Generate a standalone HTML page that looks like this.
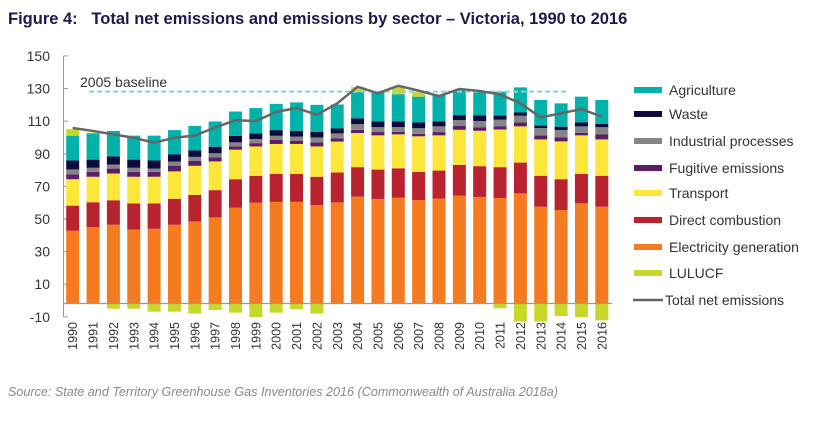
<!DOCTYPE html>
<html><head><meta charset="utf-8"><style>
body{margin:0;background:#fff;width:834px;height:418px;overflow:hidden}
svg text{font-family:"Liberation Sans",sans-serif}
</style></head><body>
<svg id="c" width="834" height="418">
<text x="8" y="24" font-size="16.5" font-weight="bold" fill="#1c1a4c">Figure 4:&#160;&#160;&#160;Total net emissions and emissions by sector – Victoria, 1990 to 2016</text>
<text x="8" y="396" font-size="12.6" font-style="italic" fill="#888">Source: State and Territory Greenhouse Gas Inventories 2016 (Commonwealth of Australia 2018a)</text>
<g id="plot"></g>
<g id="legend"></g>
</svg>
<script>
const years=[1990,1991,1992,1993,1994,1995,1996,1997,1998,1999,2000,2001,2002,2003,2004,2005,2006,2007,2008,2009,2010,2011,2012,2013,2014,2015,2016];
const electricity=[44.3,46.5,48,45,45.5,48,50,52.5,58.5,61.5,62,62,60,61.7,65.2,63.8,64.5,63.1,64,65.8,65,64.4,67.2,59,57,61.1,59];
const directCombustion=[15.4,15.3,15,16,15.5,15.9,16.3,16.7,17.4,16.5,17.2,17.2,17.4,18.3,18.1,18,18.1,17.3,17.2,18.9,18.9,18.9,18.9,19,18.9,18.1,19];
const transport=[16.2,15.6,16.4,16.4,16.4,16.8,17.8,17.6,18.1,18,18.3,18.3,18.6,19,20.9,21,20.8,21.8,21.6,21.5,21.7,23.1,22.2,22.3,23.2,23.6,22.3];
const fugitive=[3,3,3,3,3,3.5,3,2.5,2,2,2.5,2,2.5,2,2,2,1.5,1.5,2,2.5,2,2,2.5,2.5,2.5,1.5,3];
const industrial=[3,2.5,2.5,2.5,2,2.5,2.5,2.5,2.5,2.5,2.5,2.5,3,3,3.5,3,3,3.5,3.5,3.5,4,4,4,4.5,4.5,4,4.5];
const waste=[5.5,5,5,5,5,4.5,4,4,4,3.5,3.5,3.5,3.5,3,3.5,3.5,3.5,3.5,3,3,3.5,2.5,2,1.5,2,2.5,2];
const agriculture=[15.2,16.1,15.6,14.7,15.2,14.8,15,15.5,14.9,15.5,16.1,17.5,16.5,14.7,16.2,18.1,16.6,15.8,16.2,15.4,14.5,14.7,15.4,15.7,14.3,15.7,14.7];
const lulucf=[4,0.5,-2.9,-2.9,-4.7,-4.7,-5.9,-3.7,-5.3,-8,-5.3,-3.1,-5.9,0,3,0.5,4.5,3,0,0,0,-2.6,-10.8,-10.8,-7.4,-8,-10];
const netTotal=[107.3,105.5,103.4,101.3,98.3,101.3,102.7,107.6,112.1,111.5,117.2,119.5,115.4,122.4,132.6,128.6,133.2,130.2,126.9,131.2,130,127.9,122.4,113.8,116.3,118.9,114.2];
const tickLabels=[150,130,110,90,70,50,30,10,-10];
const baselineValue=129.6;

const NS="http://www.w3.org/2000/svg";
const plot=document.getElementById('plot'),legend=document.getElementById('legend');
function y(v){return 303-v*1.631;}
function x(i){return 72.7+i*20.35;}
const BW=13;
function el(t,a,p){const e=document.createElementNS(NS,t);for(const k in a)e.setAttribute(k,a[k]);(p||plot).appendChild(e);return e;}

let ax=el('line',{x1:63.5,y1:56,x2:63.5,y2:317,stroke:'#999','stroke-width':1});


tickLabels.forEach(v=>{
  const py=y(v+1.5);
  const tk=el('line',{x1:63.5,y1:py,x2:68,y2:py,stroke:'#999'});
  
  
  const t=el('text',{x:50,y:py+5,'text-anchor':'end','font-size':14,fill:'#333'});
  t.textContent=v;
  
  
});

const series=[
 ['electricity-generation',electricity,'#f47b20'],
 ['direct-combustion',directCombustion,'#b8232f'],
 ['transport',transport,'#fde63a'],
 ['fugitive-emissions',fugitive,'#5b1f69'],
 ['industrial-processes',industrial,'#858585'],
 ['waste',waste,'#0d0a3e'],
 ['agriculture',agriculture,'#00b2aa']
];
years.forEach((yr,i)=>{
  let base=0;
  series.forEach(s=>{
    const v=s[1][i];
    const r=el('rect',{x:x(i)-BW/2,y:y(base+v),width:BW,height:v*1.631,fill:s[2]});
    
    
    base+=v;
  });
  const l=lulucf[i];
  if(l!==0){
    const top=l>0?y(base+l):y(0)+1;
    const r=el('rect',{x:x(i)-BW/2,y:top,width:BW,height:Math.abs(l)*1.631,fill:'#c8d82b'});
    
    
  }
  const t=el('text',{transform:`translate(${x(i)+4.5},322) rotate(-90)`,'text-anchor':'end','font-size':12.5,fill:'#333'});
  t.textContent=yr;
  
  
});
const zl=el('line',{x1:63,y1:303.5,x2:612,y2:303.5,stroke:'#999','stroke-width':1.2});



const bl=el('line',{x1:89,y1:y(baselineValue),x2:567,y2:y(baselineValue),stroke:'#8fd3cf','stroke-width':2,'stroke-dasharray':'5,3'});


const bt=el('text',{x:80,y:87,'font-size':14,fill:'#333'});
bt.textContent='2005 baseline';



const pl=el('polyline',{points:netTotal.map((v,i)=>x(i)+','+y(v)).join(' '),fill:'none',stroke:'#666','stroke-width':2.5});



const leg=[['Agriculture','#00b2aa',90],['Waste','#0d0a3e',114],['Industrial processes','#858585',141],['Fugitive emissions','#5b1f69',168],['Transport','#fde63a',193],['Direct combustion','#b8232f',220],['Electricity generation','#f47b20',247],['LULUCF','#c8d82b',273]];
leg.forEach(l=>{
  const g=el('g',{},legend);
  
  
  el('rect',{x:634,y:l[2]-3,width:28,height:6,fill:l[1]},g);
  const t=el('text',{x:669,y:l[2]+5,'font-size':14,fill:'#333'},g);
  t.textContent=l[0];
});
const g=el('g',{},legend);


el('line',{x1:633,y1:300,x2:663,y2:300,stroke:'#666','stroke-width':2.5},g);
const tt=el('text',{x:665,y:305,'font-size':14,fill:'#333'},g);
tt.textContent='Total net emissions';
</script>
</body></html>
